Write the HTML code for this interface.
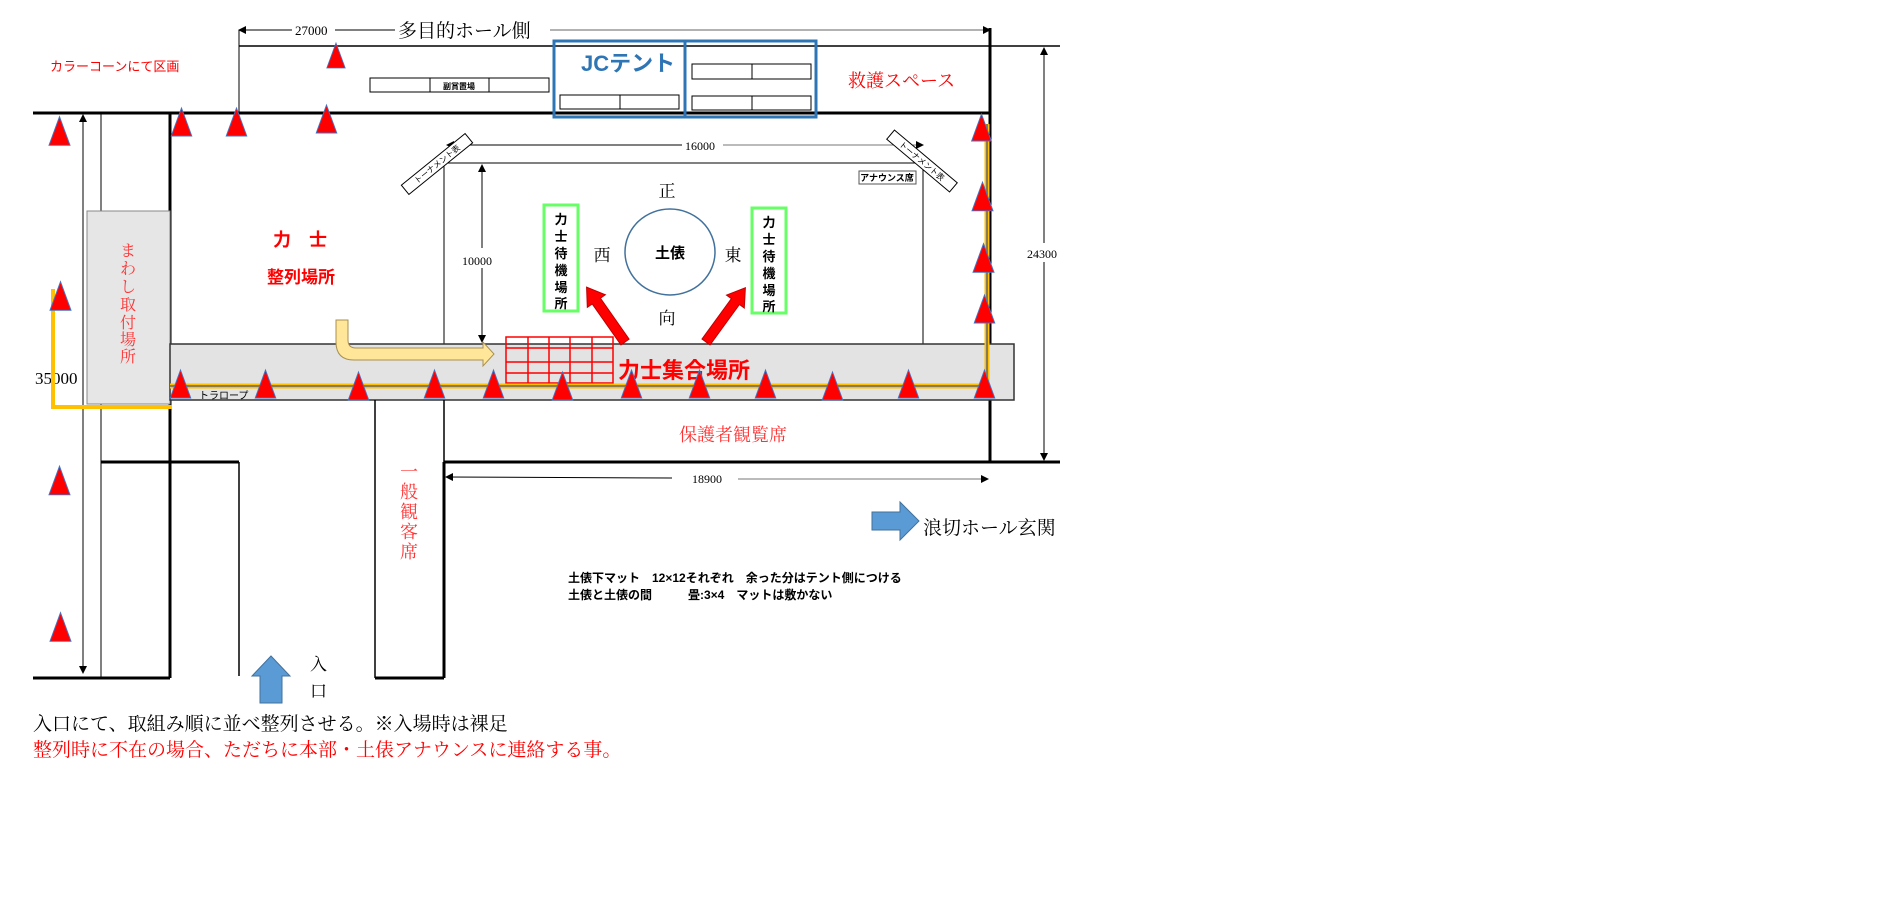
<!DOCTYPE html>
<html><head><meta charset="utf-8"><style>
html,body{margin:0;padding:0;background:#fff;}
svg{display:block;font-family:"Liberation Serif","Noto Serif CJK SC","Noto Sans CJK JP",serif;}
.s{font-family:"Liberation Sans","Noto Sans CJK JP",sans-serif;}
</style></head><body>
<svg width="1878" height="920" viewBox="0 0 1878 920" xmlns="http://www.w3.org/2000/svg">
<defs>
<marker id="ar" markerWidth="8" markerHeight="8" refX="7" refY="4" orient="auto" markerUnits="userSpaceOnUse"><path d="M0,0 L8,4 L0,8 z" fill="#000"/></marker>
<marker id="al" markerWidth="8" markerHeight="8" refX="1" refY="4" orient="auto" markerUnits="userSpaceOnUse"><path d="M8,0 L0,4 L8,8 z" fill="#000"/></marker>
<symbol id="cone" viewBox="0 0 22 30" overflow="visible"><path d="M11,0 L22,30 L0,30 z" fill="#ff0000" stroke="#4472c4" stroke-width="1"/></symbol>
</defs>

<line x1="239" y1="30" x2="292" y2="30" stroke="#000" marker-start="url(#al)"/>
<line x1="335" y1="30" x2="395" y2="30" stroke="#000"/>
<line x1="550" y1="30" x2="990" y2="30" stroke="#666" marker-end="url(#ar)"/>
<text x="295" y="35" font-size="13">27000</text>
<text x="398" y="37" font-size="19">多目的ホール側</text>

<line x1="239" y1="46" x2="1060" y2="46" stroke="#000" stroke-width="1.5"/>
<line x1="239" y1="30" x2="239" y2="113" stroke="#000" stroke-width="1"/>
<line x1="33" y1="113" x2="990" y2="113" stroke="#000" stroke-width="3"/>
<line x1="990" y1="28" x2="990" y2="463" stroke="#000" stroke-width="3"/>

<rect x="554" y="41" width="262" height="76" fill="none" stroke="#2e75b6" stroke-width="3"/>
<line x1="685" y1="41" x2="685" y2="117" stroke="#2e75b6" stroke-width="3"/>
<text x="581" y="71" font-size="22" font-weight="bold" fill="#2e75b6" class="s">JCテント</text>
<rect x="560" y="95" width="119" height="14" fill="#fff" stroke="#000"/><line x1="620" y1="95" x2="620" y2="109" stroke="#000"/>
<rect x="692" y="64" width="119" height="15" fill="#fff" stroke="#000"/><line x1="752" y1="64" x2="752" y2="79" stroke="#000"/>
<rect x="692" y="96" width="119" height="14" fill="#fff" stroke="#000"/><line x1="752" y1="96" x2="752" y2="110" stroke="#000"/>
<rect x="370" y="78" width="179" height="14" fill="#fff" stroke="#000"/>
<line x1="430" y1="78" x2="430" y2="92" stroke="#000"/><line x1="489" y1="78" x2="489" y2="92" stroke="#000"/>
<text x="459" y="89" font-size="8" text-anchor="middle" class="s" font-weight="bold">副賞置場</text>

<text x="50" y="71" font-size="13" fill="#ff0000" class="s">カラーコーンにて区画</text>
<text x="848" y="87" font-size="18" fill="#ff0000">救護スペース</text>

<line x1="83" y1="115" x2="83" y2="673" stroke="#000" marker-start="url(#al)" marker-end="url(#ar)"/>
<line x1="101" y1="113" x2="101" y2="678" stroke="#000"/>
<line x1="170" y1="113" x2="170" y2="678" stroke="#000" stroke-width="3"/>
<line x1="33" y1="678" x2="170" y2="678" stroke="#000" stroke-width="3"/>
<line x1="101" y1="462" x2="239" y2="462" stroke="#000" stroke-width="3"/>
<line x1="239" y1="462" x2="239" y2="676" stroke="#000" stroke-width="1.5"/>
<rect x="87" y="211" width="83" height="193" fill="#e6e6e6" stroke="#888"/>
<text x="128" y="256" font-size="16" fill="#ff3333" text-anchor="middle">ま</text>
<text x="128" y="274" font-size="16" fill="#ff3333" text-anchor="middle">わ</text>
<text x="128" y="292" font-size="16" fill="#ff3333" text-anchor="middle">し</text>
<text x="128" y="310" font-size="16" fill="#ff3333" text-anchor="middle">取</text>
<text x="128" y="328" font-size="16" fill="#ff3333" text-anchor="middle">付</text>
<text x="128" y="345" font-size="16" fill="#ff3333" text-anchor="middle">場</text>
<text x="128" y="362" font-size="16" fill="#ff3333" text-anchor="middle">所</text>
<text x="35" y="384" font-size="17">35000</text>
<polyline points="53,289 53,407 172,407" fill="none" stroke="#ffc000" stroke-width="4"/>

<polyline points="444,344 444,163 923,163 923,344" fill="none" stroke="#000" stroke-width="1"/>
<line x1="447" y1="145" x2="682" y2="145" stroke="#000" marker-start="url(#al)"/>
<line x1="723" y1="145" x2="923" y2="145" stroke="#777" marker-end="url(#ar)"/>
<text x="685" y="150" font-size="12">16000</text>
<line x1="482" y1="165" x2="482" y2="248" stroke="#000" marker-start="url(#al)"/>
<line x1="482" y1="268" x2="482" y2="342" stroke="#000" marker-end="url(#ar)"/>
<text x="462" y="265" font-size="12">10000</text>

<g transform="translate(437,164) rotate(-39)"><rect x="-41" y="-6" width="82" height="12" fill="#fff" stroke="#000"/><text x="0" y="3" font-size="8" text-anchor="middle" class="s">トーナメント表</text></g>
<g transform="translate(922,161) rotate(40)"><rect x="-41" y="-6" width="82" height="12" fill="#fff" stroke="#000"/><text x="0" y="3" font-size="8" text-anchor="middle" class="s">トーナメント表</text></g>
<rect x="859" y="171" width="57" height="13" fill="#fff" stroke="#555"/>
<text x="887" y="181" font-size="9" font-weight="bold" text-anchor="middle" class="s">アナウンス席</text>

<text x="667" y="197" font-size="17" text-anchor="middle">正</text>
<text x="667" y="324" font-size="17" text-anchor="middle">向</text>
<text x="602" y="261" font-size="17" text-anchor="middle">西</text>
<text x="733" y="261" font-size="17" text-anchor="middle">東</text>
<ellipse cx="670" cy="252" rx="45" ry="43" fill="none" stroke="#41719c" stroke-width="1.5"/>
<text x="670" y="258" font-size="15" font-weight="bold" text-anchor="middle" class="s">土俵</text>

<rect x="544" y="205" width="34" height="106" fill="#fff" stroke="#66ff66" stroke-width="3"/>
<rect x="752" y="208" width="34" height="105" fill="#fff" stroke="#66ff66" stroke-width="3"/>
<g font-size="13" text-anchor="middle" class="s" font-weight="bold">
<text x="561" y="224">力</text><text x="561" y="241">士</text><text x="561" y="258">待</text><text x="561" y="275">機</text><text x="561" y="292">場</text><text x="561" y="308">所</text>
<text x="769" y="227">力</text><text x="769" y="244">士</text><text x="769" y="261">待</text><text x="769" y="278">機</text><text x="769" y="295">場</text><text x="769" y="311">所</text>
</g>

<text x="300" y="246" font-size="18" font-weight="bold" fill="#ff0000" text-anchor="middle" class="s">力　士</text>
<text x="301" y="283" font-size="17" font-weight="bold" fill="#ff0000" text-anchor="middle" class="s">整列場所</text>

<rect x="170" y="344" width="844" height="56" fill="#e3e3e3" stroke="#333" stroke-width="1.5"/>
<line x1="444" y1="400" x2="444" y2="462" stroke="#000" stroke-width="1.5"/>
<line x1="444" y1="462" x2="1060" y2="462" stroke="#000" stroke-width="3"/>
<line x1="375" y1="400" x2="375" y2="678" stroke="#000" stroke-width="1.5"/>
<line x1="444" y1="462" x2="444" y2="678" stroke="#000" stroke-width="3"/>
<line x1="375" y1="678" x2="444" y2="678" stroke="#000" stroke-width="3"/>

<path d="M336,320 L348,320 L348,340 Q348,348 356,348 L483,348 L483,342 L494,354 L483,366 L483,360 L354,360 Q336,360 336,342 z" fill="#ffe699" stroke="#a89050" stroke-width="1"/>

<g stroke="#ff0000" stroke-width="1.5" fill="none">
<rect x="506" y="337" width="107" height="46"/>
<line x1="528" y1="337" x2="528" y2="383"/><line x1="549" y1="337" x2="549" y2="383"/><line x1="570" y1="337" x2="570" y2="383"/><line x1="592" y1="337" x2="592" y2="383"/>
<line x1="506" y1="348" x2="613" y2="348"/><line x1="506" y1="362" x2="613" y2="362"/><line x1="506" y1="373" x2="613" y2="373"/>
</g>
<text x="618" y="378" font-size="22" font-weight="bold" fill="#ff0000" class="s">力士集合場所</text>

<g fill="#ff0000" stroke="#c00000" stroke-width="1">
<g transform="translate(625,342) rotate(-125)"><path d="M0,-5 L50,-5 L50,-11 L67,0 L50,11 L50,5 L0,5 z"/></g>
<g transform="translate(706,342) rotate(-54)"><path d="M0,-5 L50,-5 L50,-11 L67,0 L50,11 L50,5 L0,5 z"/></g>
</g>

<polyline points="170,386 987,386 987,124" fill="none" stroke="#ffc000" stroke-width="5"/>
<polyline points="170,386 987,386 987,124" fill="none" stroke="#8a7a50" stroke-width="2"/>
<text x="199" y="399" font-size="10" class="s">トラロープ</text>

<g>
<use href="#cone" x="325" y="43" width="22" height="25"/>
<use href="#cone" x="171" y="108" width="21" height="28"/>
<use href="#cone" x="226" y="108" width="21" height="28"/>
<use href="#cone" x="316" y="105" width="21" height="28"/>
<use href="#cone" x="49" y="116" width="21" height="30"/>
<use href="#cone" x="50" y="280" width="21" height="32"/>
<use href="#cone" x="49" y="465" width="21" height="31"/>
<use href="#cone" x="50" y="612" width="21" height="30"/>
<use href="#cone" x="971" y="114" width="21" height="27"/>
<use href="#cone" x="972" y="182" width="21" height="29"/>
<use href="#cone" x="973" y="243" width="21" height="30"/>
<use href="#cone" x="974" y="295" width="21" height="28"/>
<use href="#cone" x="170" y="370" width="21" height="28"/>
<use href="#cone" x="255" y="370" width="21" height="28"/>
<use href="#cone" x="348" y="372" width="21" height="28"/>
<use href="#cone" x="424" y="370" width="21" height="28"/>
<use href="#cone" x="483" y="370" width="21" height="28"/>
<use href="#cone" x="552" y="372" width="21" height="28"/>
<use href="#cone" x="621" y="370" width="21" height="28"/>
<use href="#cone" x="689" y="370" width="21" height="28"/>
<use href="#cone" x="755" y="370" width="21" height="28"/>
<use href="#cone" x="822" y="372" width="21" height="28"/>
<use href="#cone" x="898" y="370" width="21" height="28"/>
<use href="#cone" x="974" y="370" width="21" height="28"/>
</g>

<line x1="1044" y1="48" x2="1044" y2="243" stroke="#000" marker-start="url(#al)"/>
<line x1="1044" y1="262" x2="1044" y2="460" stroke="#000" marker-end="url(#ar)"/>
<text x="1027" y="258" font-size="12">24300</text>

<text x="733" y="441" font-size="18" fill="#ff3333" text-anchor="middle">保護者観覧席</text>

<g font-size="18" fill="#ff3333" text-anchor="middle">
<text x="409" y="478">一</text><text x="409" y="498">般</text><text x="409" y="518">観</text><text x="409" y="538">客</text><text x="409" y="558">席</text>
</g>

<line x1="446" y1="477" x2="672" y2="478" stroke="#000" marker-start="url(#al)"/>
<line x1="738" y1="479" x2="988" y2="479" stroke="#777" marker-end="url(#ar)"/>
<text x="692" y="483" font-size="12">18900</text>

<path d="M872,512 L900,512 L900,502 L919,521 L900,540 L900,530 L872,530 z" fill="#5b9bd5" stroke="#41719c"/>
<text x="923" y="534" font-size="19">浪切ホール玄関</text>

<text x="568" y="582" font-size="12" font-weight="bold" class="s">土俵下マット　12×12それぞれ　余った分はテント側につける</text>
<text x="568" y="599" font-size="12" font-weight="bold" class="s">土俵と土俵の間　　　畳:3×4　マットは敷かない</text>

<path d="M260,703 L260,676 L252,676 L271,656 L290,676 L282,676 L282,703 z" fill="#5b9bd5" stroke="#41719c"/>
<text x="310" y="670" font-size="17">入</text>
<text x="310" y="697" font-size="17">口</text>

<text x="33" y="730" font-size="19">入口にて、取組み順に並べ整列させる。※入場時は裸足</text>
<text x="33" y="756" font-size="19" fill="#ff0000">整列時に不在の場合、ただちに本部・土俵アナウンスに連絡する事。</text>
</svg>
</body></html>
